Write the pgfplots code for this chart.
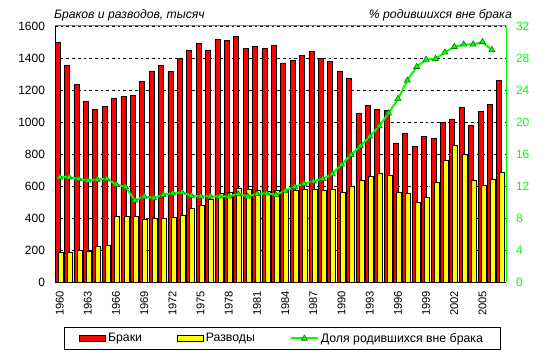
\documentclass[border=0pt]{standalone}
\usepackage{pgfplots}
\usepackage{pgfplotstable}
\pgfplotsset{compat=1.18}
\usepackage{fontspec}
\setmainfont{Liberation Sans}
\definecolor{bred}{RGB}{255,0,0}
\definecolor{byellow}{RGB}{255,255,0}
\definecolor{lgreen}{RGB}{0,255,0}
\definecolor{dgreen}{RGB}{0,128,0}
\definecolor{bgray}{RGB}{128,128,128}
\pgfplotsset{
  linelegend/.style={legend image code/.code={\draw[mark repeat=2, mark phase=2, ##1] plot coordinates {(0bp,0bp) (13.5bp,0bp) (27bp,0bp)};}},
}

\pgfplotstableread{
year mar div
1960 1498 185
1961 1354 185
1962 1235 198
1963 1129 192
1964 1081 223
1965 1098 229
1966 1148 410
1967 1160 410
1968 1167 410
1969 1256 394
1970 1319 398
1971 1354 400
1972 1317 404
1973 1398 417
1974 1448 460
1975 1492 479
1976 1448 516
1977 1517 551
1978 1510 563
1979 1535 588
1980 1460 581
1981 1473 574
1982 1460 566
1983 1479 575
1984 1369 571
1985 1386 571
1986 1417 579
1987 1442 579
1988 1398 571
1989 1379 579
1990 1317 560
1991 1273 598
1992 1054 635
1993 1104 662
1994 1081 679
1995 1073 669
1996 867 560
1997 929 554
1998 848 498
1999 911 529
2000 898 623
2001 996 760
2002 1019 852
2003 1092 798
2004 979 635
2005 1067 604
2006 1110 642
2007 1260 685
}\data

\pgfplotstableread{
year share
1960 13.1
1961 13.1
1962 12.9
1963 12.7
1964 12.8
1965 12.9
1966 12.2
1967 11.9
1968 10.2
1969 10.7
1970 10.5
1971 10.9
1972 11.1
1973 11.2
1974 10.8
1975 10.7
1976 10.7
1977 10.7
1978 10.7
1979 11.0
1980 10.7
1981 11.0
1982 11.1
1983 10.9
1984 11.4
1985 11.9
1986 12.3
1987 12.6
1988 12.9
1989 13.5
1990 14.7
1991 15.9
1992 17.0
1993 18.2
1994 19.5
1995 21.1
1996 22.9
1997 25.2
1998 26.9
1999 27.8
2000 27.9
2001 28.7
2002 29.4
2003 29.7
2004 29.7
2005 30.0
2006 29.0
}\share

\begin{document}
\begin{tikzpicture}
\path[use as bounding box] (-55bp,-77bp) rectangle (492bp,282bp);
\begin{axis}[
  at={(0,0)}, anchor=south west,
  scale only axis, width=451bp, height=256bp,
  xmin=1959.5, xmax=2007.5,
  ymin=0, ymax=1600,
  axis x line*=bottom, axis y line*=left,
  axis line style={black, line width=0.9bp, -},
  xtick={1960,1963,...,2005},
  ytick={0,200,...,1600},
  major tick length=0pt,
  ymajorgrids,
  grid style={black, line width=0.7bp, dash pattern=on 2.7bp off 3bp},
  /pgf/number format/assume math mode=true,
  /pgf/number format/set thousands separator={},
  yticklabel style={font=\fontsize{12bp}{14bp}\selectfont, xshift=-6.5bp},
  xticklabel style={font=\fontsize{11.2bp}{13bp}\selectfont, yshift=-5.5bp, rotate=90, anchor=east},
]
\addplot[ybar, bar width=5bp, bar shift=-2bp, fill=bred, draw=black, line width=0.7bp]
  table[x=year, y=mar] {\data};
\addplot[ybar, bar width=5bp, bar shift=1bp, fill=byellow, draw=black, line width=0.7bp]
  table[x=year, y=div] {\data};
\end{axis}
\draw[bgray, line width=1bp] (0bp,256bp) -- (451bp,256bp);
\begin{axis}[
  at={(0,0)}, anchor=south west,
  scale only axis, width=451bp, height=256bp,
  xmin=1959.5, xmax=2007.5,
  ymin=0, ymax=32,
  axis x line=none, axis y line*=right,
  axis line style={lgreen, line width=1bp, -},
  ytick={0,4,...,32},
  major tick length=0pt,
  /pgf/number format/assume math mode=true,
  yticklabel style={font=\fontsize{12bp}{14bp}\selectfont, text=lgreen, xshift=6.5bp},
  legend columns=3,
  legend style={
    at={(axis description cs:0.5037,-0.177)}, anchor=north,
    draw=black, line width=0.8bp,
    font=\fontsize{12.3bp}{14bp}\selectfont,
    inner xsep=15bp, inner ysep=3.5bp,
    /tikz/every even column/.append style={column sep=33bp},
    legend cell align=left,
  },
]
\addlegendimage{legend image code/.code={\draw[fill=bred, draw=black, line width=0.7bp] (0bp,-3bp) rectangle (26bp,3bp);}}
\addlegendentry{Браки}
\addlegendimage{legend image code/.code={\draw[fill=byellow, draw=black, line width=0.7bp] (0bp,-3bp) rectangle (26bp,3bp);}}
\addlegendentry{Разводы}
\addplot[lgreen, line width=2bp, mark=triangle*, mark size=3.5bp,
  mark options={fill=lgreen, draw=dgreen, line width=0.6bp}, linelegend]
  table[x=year, y=share] {\share};
\addlegendentry{Доля родившихся вне брака}
\end{axis}
\node[anchor=base west, font=\fontsize{12.2bp}{14bp}\selectfont\itshape, inner sep=0pt] at (-1bp,263bp) {Браков и разводов, тысяч};
\node[anchor=base east, font=\fontsize{12.2bp}{14bp}\selectfont\itshape, inner sep=0pt] at (457bp,263bp) {\% родившихся вне брака};
\end{tikzpicture}
\end{document}
